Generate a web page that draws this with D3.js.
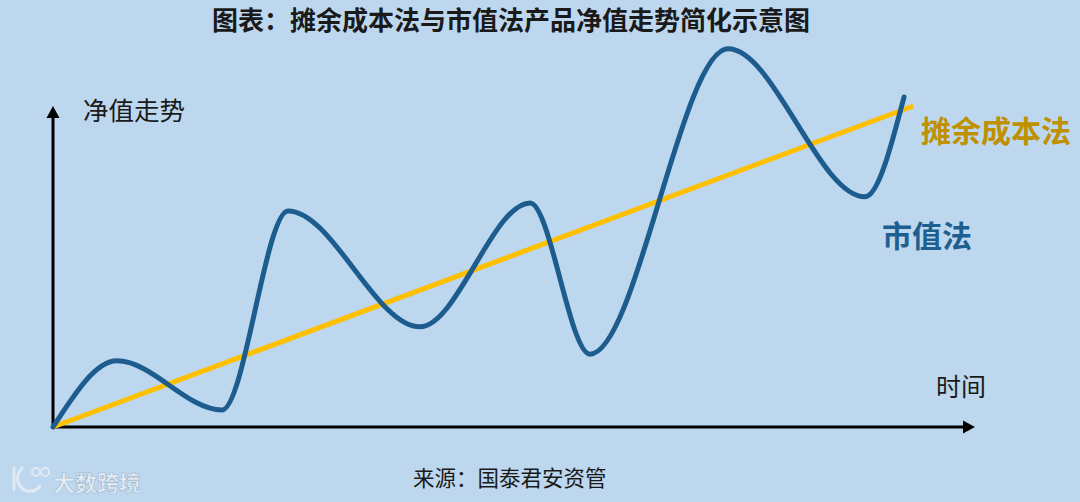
<!DOCTYPE html>
<html>
<head>
<meta charset="utf-8">
<script src="https://cdn.jsdelivr.net/npm/d3@7"></script>
<style>
html,body{margin:0;padding:0;background:#bdd7ee;}
svg{display:block;}
text{font-family:"Noto Sans CJK SC","Noto Sans",sans-serif;}
</style>
</head>
<body>
<svg id="chart" width="1080" height="502"></svg>
<script>
// ---- data ----
const title = "图表：摊余成本法与市值法产品净值走势简化示意图";
const yAxisLabel = "净值走势";
const xAxisLabel = "时间";
const source = "来源：国泰君安资管";
const watermark = "大数跨境";
const seriesNames = ["摊余成本法", "市值法"];

// 摊余成本法: straight line (time, value)
const amortTime  = [0, 93.3];
const amortValue = [0, 100];

// 市值法: fluctuating curve, turning points (time, value)
const marketTime  = [0, 6.94, 18.33, 25.49, 39.80, 51.74, 58.24, 73.21, 88.07, 92.30];
const marketValue = [0, 20.6, 5.3, 67.3, 31.2, 69.8, 22.7, 117.8, 71.7, 102.8];

// ---- drawing ----
const svg = d3.select("#chart");
const W = 1080, H = 502;
svg.append("rect").attr("width", W).attr("height", H).attr("fill", "#bdd7ee");

const x = d3.scaleLinear().domain([0, 100]).range([53, 975]);
const y = d3.scaleLinear().domain([0, 100]).range([427, 106]);

// title
svg.append("text").attr("x", 511).attr("y", 30)
  .attr("text-anchor", "middle").attr("font-size", 26).attr("font-weight", "bold")
  .attr("fill", "#1a1a1a").text(title);

// axes with arrows
const axisColor = "#000";
svg.append("line").attr("x1", x(0)).attr("x2", x(0)).attr("y1", y(0)).attr("y2", y(100) + 8)
  .attr("stroke", axisColor).attr("stroke-width", 3);
svg.append("line").attr("x1", x(0)).attr("x2", x(100) - 8).attr("y1", y(0)).attr("y2", y(0))
  .attr("stroke", axisColor).attr("stroke-width", 3);
svg.append("path")
  .attr("d", `M${x(0)},${y(100)} L${x(0)-6.5},${y(100)+12} L${x(0)+6.5},${y(100)+12} Z`)
  .attr("fill", axisColor);
svg.append("path")
  .attr("d", `M${x(100)},${y(0)} L${x(100)-12},${y(0)-6.5} L${x(100)-12},${y(0)+6.5} Z`)
  .attr("fill", axisColor);

// axis labels
svg.append("text").attr("x", 83).attr("y", 120).attr("font-size", 25.5)
  .attr("fill", "#1a1a1a").text(yAxisLabel);
svg.append("text").attr("x", 936).attr("y", 396).attr("font-size", 25)
  .attr("fill", "#1a1a1a").text(xAxisLabel);

// amortised-cost line
const amortPts = amortTime.map((t, i) => [t, amortValue[i]]);
svg.append("path").datum(amortPts)
  .attr("d", d3.line().x(d => x(d[0])).y(d => y(d[1])))
  .attr("fill", "none").attr("stroke", "#ffc000").attr("stroke-width", 5);

// market value curve
const marketPts = marketTime.map((t, i) => [t, marketValue[i]]);
svg.append("path").datum(marketPts)
  .attr("d", d3.line().curve(d3.curveMonotoneX).x(d => x(d[0])).y(d => y(d[1])))
  .attr("fill", "none").attr("stroke", "#1c5c8e").attr("stroke-width", 5)
  .attr("stroke-linecap", "round").attr("stroke-linejoin", "round");

// series labels
svg.append("text").attr("x", 921).attr("y", 142).attr("font-size", 30).attr("font-weight", "bold")
  .attr("fill", "#bf9000").text(seriesNames[0]);
svg.append("text").attr("x", 882).attr("y", 247).attr("font-size", 30).attr("font-weight", "bold")
  .attr("fill", "#1f5f8f").text(seriesNames[1]);

// source
svg.append("text").attr("x", 413).attr("y", 486).attr("font-size", 21.5)
  .attr("fill", "#1a1a1a").text(source);

// watermark
const wm = svg.append("g").attr("opacity", 0.85);
wm.append("path").attr("d", "M14,468 L14,490 M22,468 Q12,480 24,490 Q34,494 40,486")
  .attr("fill", "none").attr("stroke", "#e8eef5").attr("stroke-width", 3).attr("stroke-linecap", "round");
wm.append("circle").attr("cx", 36).attr("cy", 472).attr("r", 4).attr("fill", "none").attr("stroke", "#e8eef5").attr("stroke-width", 2);
wm.append("circle").attr("cx", 45).attr("cy", 472).attr("r", 4).attr("fill", "none").attr("stroke", "#e8eef5").attr("stroke-width", 2);
wm.append("text").attr("x", 53).attr("y", 491).attr("font-size", 22).attr("font-weight", "bold")
  .attr("fill", "#eef3f8").attr("stroke", "#9fb3c6").attr("stroke-width", 0.6).text(watermark);
</script>
</body>
</html>
